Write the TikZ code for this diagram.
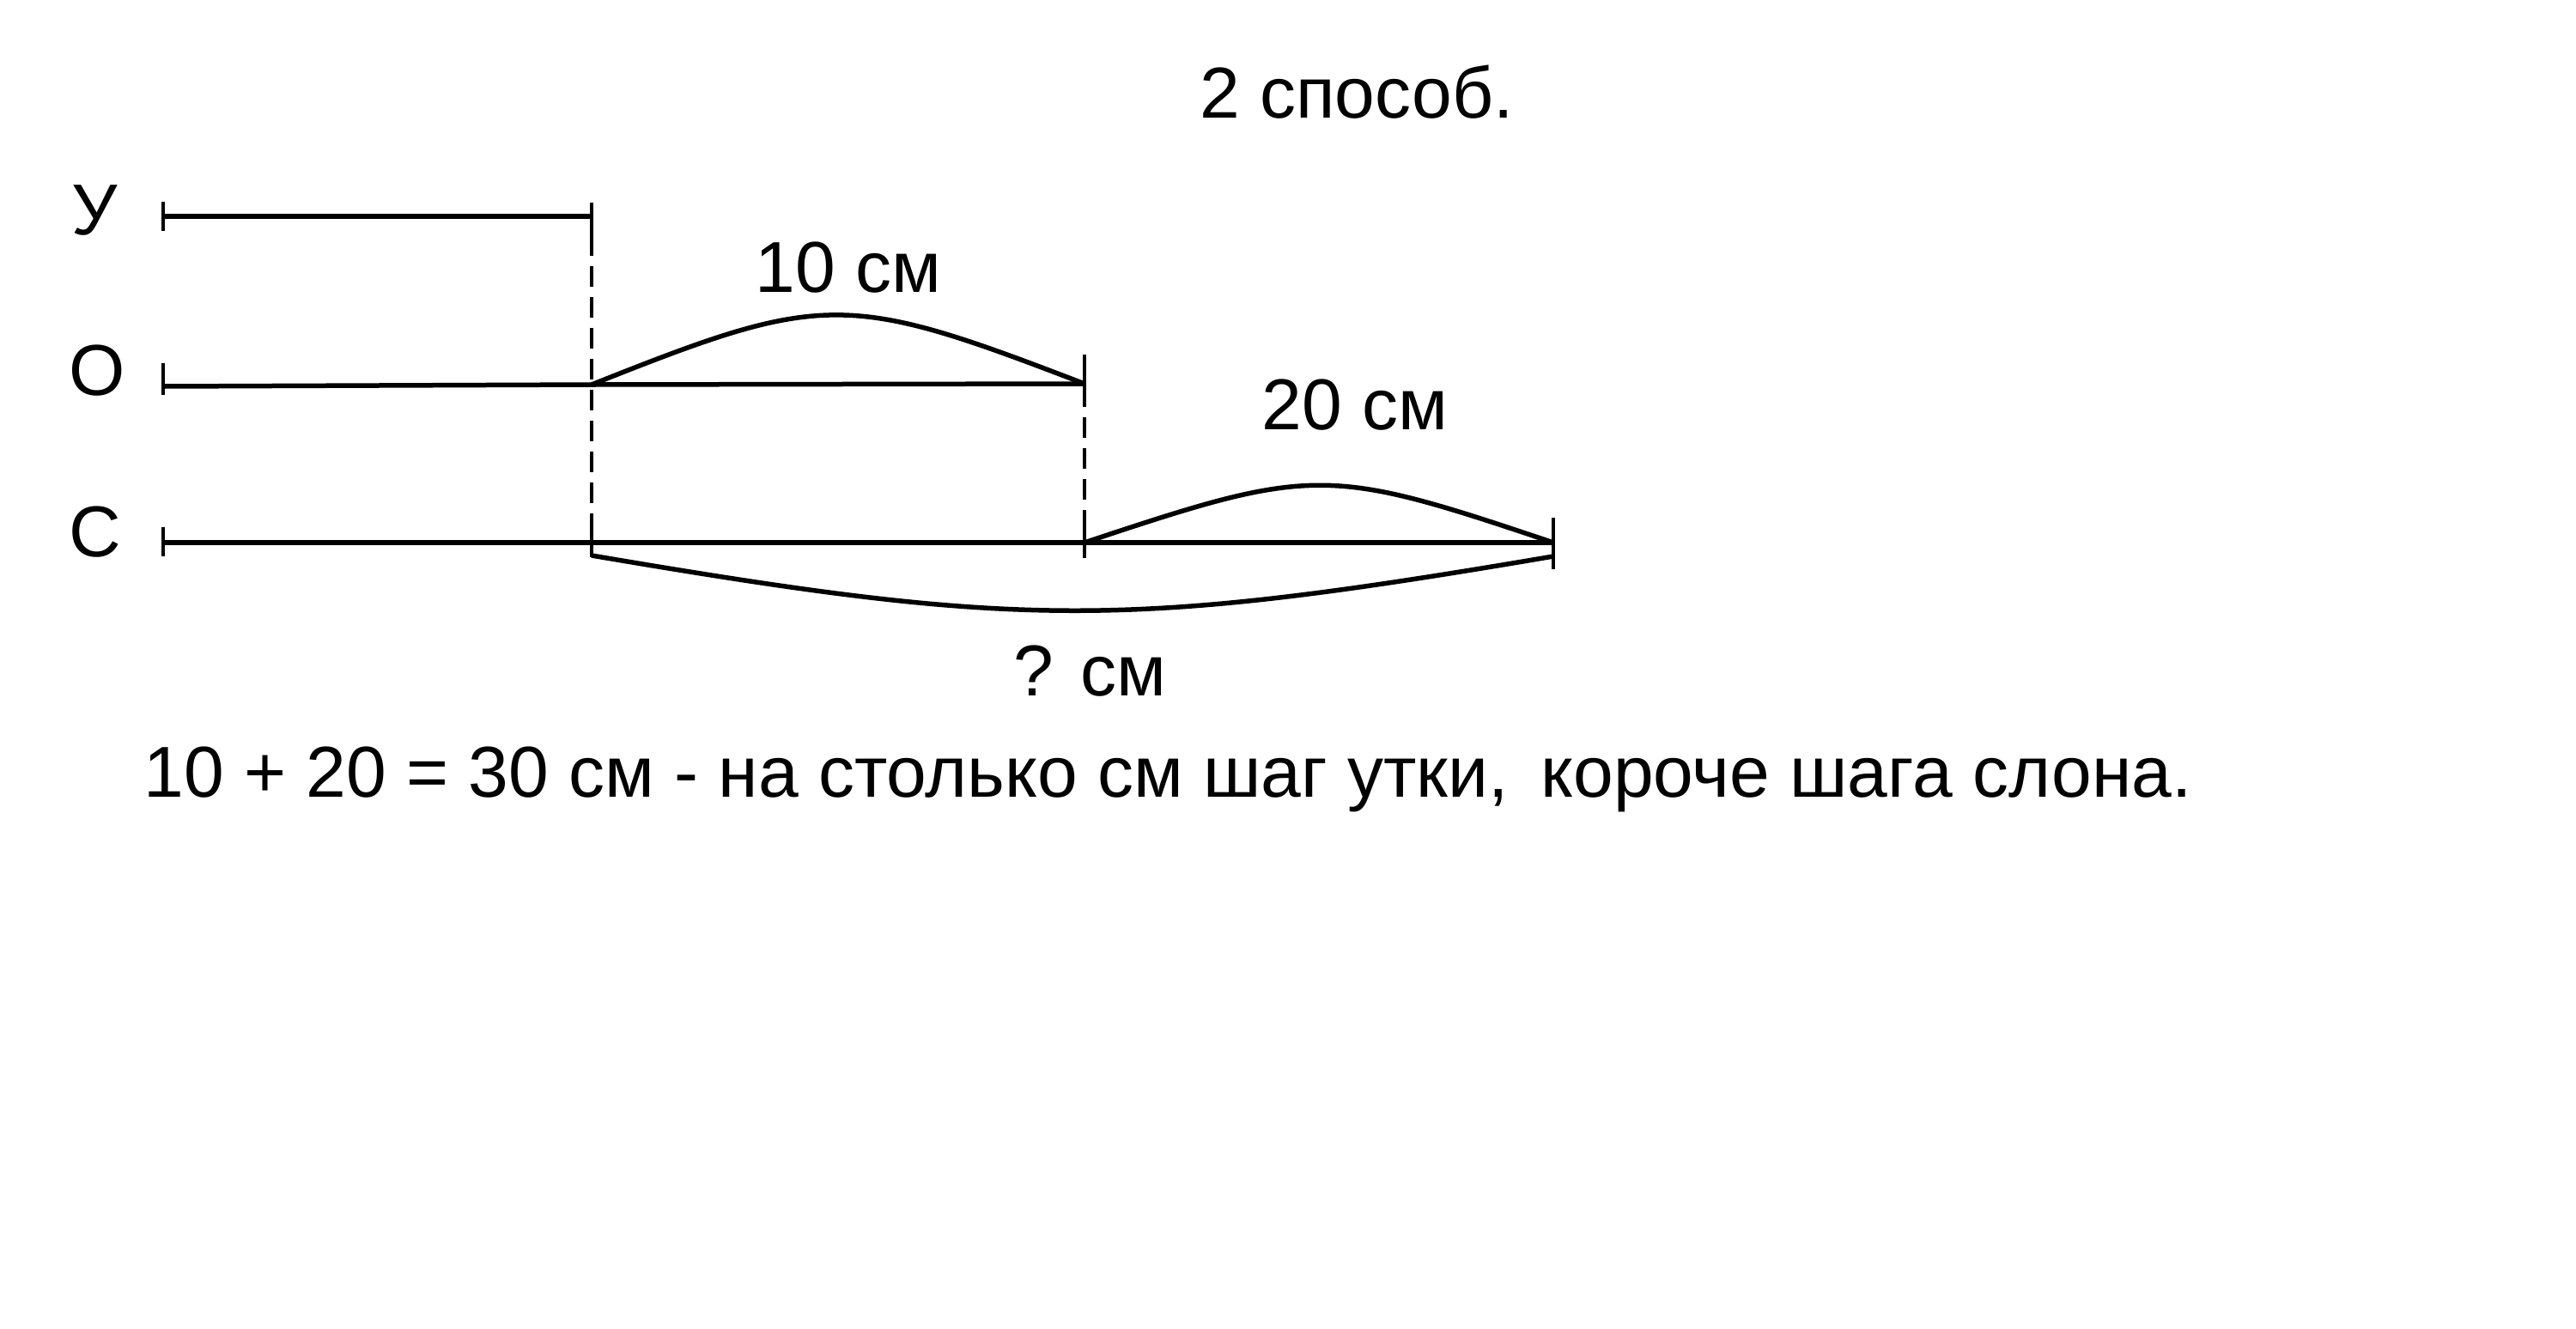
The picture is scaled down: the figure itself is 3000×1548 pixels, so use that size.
\documentclass[tikz,border=0pt]{standalone}
\usepackage{fontspec}
\setmainfont{Liberation Sans}
\begin{document}
\begin{tikzpicture}[x=0.5pt,y=-0.5pt,
  seg/.style={line width=2.75pt},
  tickmark/.style={line width=2.4pt},
  dashline/.style={line width=2.4pt, dash pattern=on 12pt off 6pt},
  lbl/.style={anchor=base west, inner sep=0pt, font=\fontsize{42}{50}\selectfont}]
\useasboundingbox[fill=white] (0,0) rectangle (3000,1548);
% coordinates
\coordinate (y0) at (190,252);
\coordinate (y1) at (689,252);
\coordinate (o0) at (190,450);
\coordinate (o1) at (689,448);
\coordinate (o2) at (1263,447);
\coordinate (c0) at (190,632);
\coordinate (c1) at (689,632);
\coordinate (c2) at (1263,632);
\coordinate (c3) at (1809,632);
\coordinate (b1) at (689,647);
\coordinate (b2) at (1809,648);
% segments
\draw[seg] (y0) -- (y1);
\draw[seg] (o0) -- (o1) -- (o2);
\draw[seg] (c0) -- (c3);
% ticks
\draw[tickmark] (190,235) -- (190,269);
\draw[tickmark] (689,236) -- (689,274);
\draw[tickmark] (190,423) -- (190,460);
\draw[tickmark] (1263,413) -- (1263,450);
\draw[tickmark] (190,614) -- (190,648);
\draw[tickmark] (689,612) -- (689,649);
\draw[tickmark] (1263,612) -- (1263,650);
\draw[tickmark] (1809,603) -- (1809,663);
% dashed verticals
\draw[dashline] (689,274) -- (689,612);
\draw[dashline] (1263,450) -- (1263,612);
% arcs
\draw[seg] (o1) .. controls (960,340) and (985,340) .. (o2);
\draw[seg] (c2) .. controls (1530,543) and (1545,543) .. (c3);
\draw[seg] (b1) .. controls (1189,732) and (1309,733) .. (b2);
% texts
\node[lbl] (title) at (1397,137) {2 способ.};
\node[lbl] (lu) at (83,273) {У};
\node[lbl] (lo) at (80,460) {О};
\node[lbl] (lc) at (80,648) {С};
\node[lbl] (l10) at (879,340) {10 см};
\node[lbl] (l20) at (1469,500) {20 см};
\node[lbl] (lq) at (1180,810) {? см};
\node[lbl] (eq) at (167,928) {10 + 20 = 30 см - на столько см шаг утки,\hspace{0.45em}короче шага слона.};
\end{tikzpicture}
\end{document}
